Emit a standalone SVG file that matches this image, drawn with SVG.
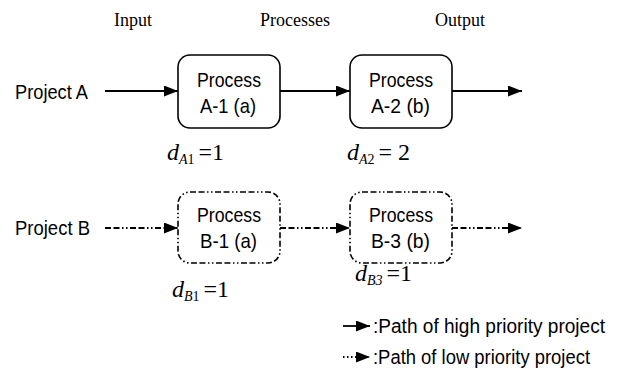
<svg xmlns="http://www.w3.org/2000/svg" width="622" height="376" viewBox="0 0 622 376">
<style>
.hd{font-family:"Liberation Serif","Times New Roman",serif;font-size:18px;fill:#000}
.lb{font-family:"Liberation Sans Narrow","Liberation Sans",Arial,sans-serif;font-size:21px;fill:#000}
.pj{font-size:20px}
.lg{font-size:19.5px}
.mt{font-family:"Liberation Serif","Times New Roman",serif;font-size:24px;fill:#000}
.box{fill:#fff;stroke:#000;stroke-width:1.6}
.dash{stroke-dasharray:6,2.5,6,2.5,1.5,2.5,1.5,2.5}
.ln{stroke:#000;stroke-width:1.8;fill:none}
</style>
<defs>
<marker id="ah" markerWidth="14" markerHeight="11" refX="14" refY="5.5" orient="auto" markerUnits="userSpaceOnUse">
<path d="M0,0 L14,5.5 L0,11 Z" fill="#000"/>
</marker>
</defs>
<g id="headers">
<text class="hd" x="133" y="26" text-anchor="middle">Input</text>
<text class="hd" x="295" y="26" text-anchor="middle">Processes</text>
<text class="hd" x="460" y="26" text-anchor="middle">Output</text>
</g>
<g id="projA"><text class="lb pj" x="15" y="99" textLength="73" lengthAdjust="spacingAndGlyphs">Project A</text></g>
<g id="projB"><text class="lb pj" x="15" y="235" textLength="75" lengthAdjust="spacingAndGlyphs">Project B</text></g>
<g id="A1">
<rect class="box" x="178" y="55" width="102" height="73" rx="12"/>
<text class="lb" x="197" y="87" textLength="64" lengthAdjust="spacingAndGlyphs">Process</text>
<text class="lb" x="200" y="113" textLength="56" lengthAdjust="spacingAndGlyphs">A-1 (a)</text>
<text class="mt" x="167" y="160"><tspan font-style="italic">d</tspan><tspan font-size="14" dy="4" font-style="italic">A</tspan><tspan font-size="14">1</tspan><tspan dy="-4" dx="4">=1</tspan></text>
</g>
<g id="A2">
<rect class="box" x="350" y="55" width="102" height="73" rx="12"/>
<text class="lb" x="369" y="87" textLength="64" lengthAdjust="spacingAndGlyphs">Process</text>
<text class="lb" x="371" y="113" textLength="59" lengthAdjust="spacingAndGlyphs">A-2 (b)</text>
<text class="mt" x="347" y="160"><tspan font-style="italic">d</tspan><tspan font-size="14" dy="4" font-style="italic">A</tspan><tspan font-size="14">2</tspan><tspan dy="-4" dx="4">= 2</tspan></text>
</g>
<g id="B1">
<rect class="box dash" x="178" y="192" width="102" height="71" rx="12"/>
<text class="lb" x="197" y="222" textLength="64" lengthAdjust="spacingAndGlyphs">Process</text>
<text class="lb" x="200" y="248" textLength="57" lengthAdjust="spacingAndGlyphs">B-1 (a)</text>
<text class="mt" x="172" y="297"><tspan font-style="italic">d</tspan><tspan font-size="14" dy="4" font-style="italic">B</tspan><tspan font-size="14">1</tspan><tspan dy="-4" dx="4">=1</tspan></text>
</g>
<g id="B3">
<rect class="box dash" x="350" y="192" width="102" height="71" rx="12"/>
<text class="lb" x="369" y="222" textLength="64" lengthAdjust="spacingAndGlyphs">Process</text>
<text class="lb" x="371" y="248" textLength="59" lengthAdjust="spacingAndGlyphs">B-3 (b)</text>
<text class="mt" x="355" y="281"><tspan font-style="italic">d</tspan><tspan font-size="14" dy="4" font-style="italic">B3</tspan><tspan dy="-4" dx="4">=1</tspan></text>
</g>
<g id="connectors">
<line class="ln" x1="105" y1="91" x2="178" y2="91" marker-end="url(#ah)"/>
<line class="ln" x1="280" y1="91" x2="350" y2="91" marker-end="url(#ah)"/>
<line class="ln" x1="452" y1="91" x2="522" y2="91" marker-end="url(#ah)"/>
<line class="ln dash" x1="105" y1="228" x2="178" y2="228" marker-end="url(#ah)"/>
<line class="ln dash" x1="280" y1="228" x2="350" y2="228" marker-end="url(#ah)"/>
<line class="ln dash" x1="452" y1="228" x2="522" y2="228" marker-end="url(#ah)"/>
</g>
<g id="legend">
<line class="ln" x1="343" y1="326" x2="370" y2="326" marker-end="url(#ah)"/>
<text class="lb lg" x="373" y="333" textLength="232" lengthAdjust="spacingAndGlyphs">:Path of high priority project</text>
<line class="ln" x1="343" y1="357" x2="370" y2="357" stroke-dasharray="1.5,2.5" marker-end="url(#ah)"/>
<text class="lb lg" x="373" y="364" textLength="217" lengthAdjust="spacingAndGlyphs">:Path of low priority project</text>
</g>
</svg>
